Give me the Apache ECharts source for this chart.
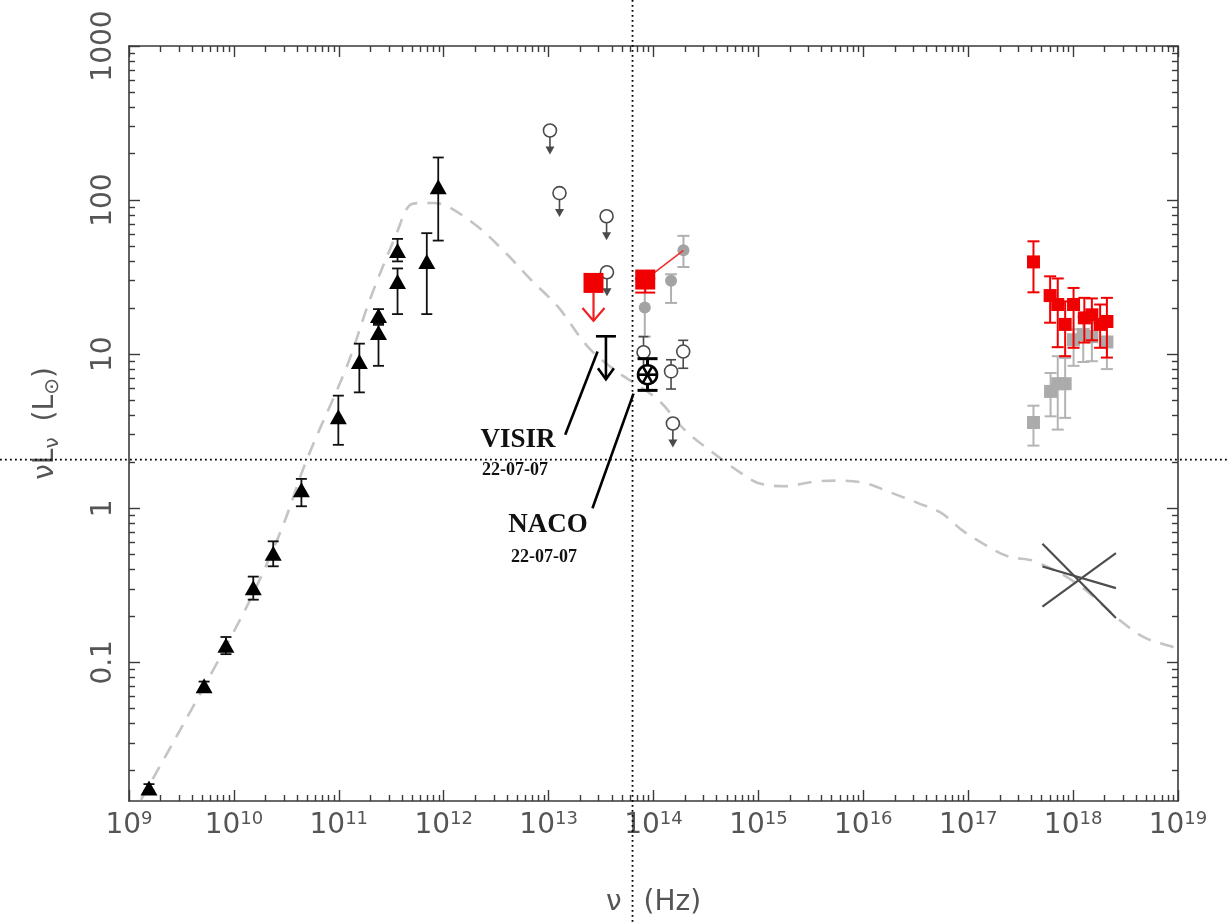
<!DOCTYPE html>
<html><head><meta charset="utf-8">
<script src="https://cdn.jsdelivr.net/npm/echarts@6/dist/echarts.min.js"></script>
<style>html,body{margin:0;padding:0;background:#fff}#c{width:1228px;height:922px}</style>
</head><body><div id="c"></div><script>
// ---------- axis ticks ----------
const xMajorTicks = [1e9,1e10,1e11,1e12,1e13,1e14,1e15,1e16,1e17,1e18,1e19];
const yMajorTicks = [0.1,1,10,100,1000];
const minorSteps = [2,3,4,5,6,7,8,9];
const xMin = 1e9, xMax = 1e19, yMin = 0.01259, yMax = 1000;

// ---------- data (x = nu [Hz], y = nuL_nu [Lsun]) ----------
// model SED (dashed grey curve)
const modelCurve = [[1.3e9,0.0128],[1.14e10,0.188],[2.75e10,0.69],[4.94e10,2.06],[1.19e11,8.3],[1.98e11,22.6],[3.57e11,61.1],[4.78e11,92.9],[6.21e11,95.7],[7.91e11,95.7],[1.07e12,91.6],[2.09e12,67.6],[3.76e12,46.6],[6.76e12,30.5],[1.22e13,20.4],[2.36e13,11.2],[4.23e13,7.93],[1.10e14,5.07],[1.97e14,3.24],[4.10e14,2.17],[6.85e14,1.69],[9.89e14,1.46],[1.77e15,1.39],[3.44e15,1.49],[5.74e15,1.51],[1.03e16,1.46],[1.85e16,1.26],[3.33e16,1.08],[5.57e16,0.93],[8.65e16,0.724],[1.45e17,0.579],[2.42e17,0.486],[4.34e17,0.452],[1.135e18,0.318],[2.92e18,0.183],[4.88e18,0.144],[9.42e18,0.124],[1e19,0.12]];
// radio / sub-mm detections: [nu, L, Llow, Lhigh]
const radioTriangles = [[1.55e9,0.0153,0.0146,0.0162],[5.2e9,0.0705,0.067,0.075],[8.4e9,0.129,0.113,0.146],[1.53e10,0.305,0.255,0.36],[2.37e10,0.51,0.42,0.61],[4.4e10,1.32,1.03,1.55],[9.9e10,3.93,2.58,5.38],[1.57e11,8.95,5.65,11.7],[2.39e11,13.8,8.4,15.5],[2.39e11,17.8,15.8,19.6],[3.63e11,29.6,18.2,36],[3.63e11,47,40,56],[6.9e11,40,18.2,61],[8.87e11,122,54.6,189]];
// IR upper limits (open circles with arrows): [nu, L]
const irUpperLimits = [[1.03e13,283],[1.27e13,111],[3.57e13,78.5],[3.6e13,34],[1.53e14,3.55]];
// NIR detections (open circles): [nu, L, Llow, Lhigh]
const nirCircles = [[8.03e13,10.3,8.0,13.0],[1.47e14,7.73,5.94,9.2],[1.92e14,10.4,8.1,12.3]];
// NIR flare points (grey dots): [nu, L, Llow, Lhigh]
const nirFlareGrey = [[1.93e14,47.2,36.8,58.6],[1.47e14,30,21.5,33],[8.26e13,20.1,13.0,27]];
// red IR points
const redIrUpperLimit = [[2.68e13,29]];
const redIrDetections = [[8.34e13,30.5,25.1,31]];
const redIrSlope = [[8.34e13,30.5],[1.93e14,47.2]];
// X-ray flares: [nu, L, Llow, Lhigh]
const xrayRed = [[4.19e17,39.7,25.2,54],[6.04e17,24,16,32],[7.14e17,21,11.1,31],[8.4e17,15.6,9.7,22],[1.01e18,21,11,26.9],[1.28e18,17.2,11.9,23.2],[1.51e18,18,12.3,23],[1.81e18,15.6,11,21],[2.1e18,16.3,9.5,23.2]];
const xrayGrey = [[4.19e17,3.6,2.55,4.63],[6.1e17,5.73,3.95,7.55],[7.14e17,6.43,3.24,9.7],[8.4e17,6.43,3.86,9.45],[1.01e18,12.4,8.4,14.5],[1.25e18,13.4,8.9,17.5],[1.51e18,13,9,16],[2.1e18,12,8.0,15]];
// quiescent X-ray bow-tie
const bowTie = [[[5.1e17,0.589],[2.56e18,0.194]],[[5.1e17,0.230],[2.56e18,0.512]],[[5.1e17,0.419],[2.56e18,0.303]]];
// 22-07-07 observations
const visirLimit = [[3.52e13,13.06]];
const nacoPoint = [[8.77e13,7.36,5.82,9.35]];
const visirLeader = [[1.44e13,3.0],[2.93e13,10.4]];
const nacoLeader = [[2.62e13,1.0],[6.45e13,5.54]];
const annotations = [
  {text:'VISIR', x:5.1e12, y:2.77, big:true},
  {text:'22-07-07', x:4.79e12, y:1.75, big:false},
  {text:'NACO', x:9.86e12, y:0.778, big:true},
  {text:'22-07-07', x:9.04e12, y:0.483, big:false}
];
// crosshair (dotted) position
const crossX = 6.31e13, crossY = 2.07;

// ---------- helpers ----------
const minorOf = (majors) => {
  const out = [];
  majors.forEach(m => minorSteps.forEach(k => out.push(m*k)));
  return out;
};
const xMinorTicks = minorOf([1e9,1e10,1e11,1e12,1e13,1e14,1e15,1e16,1e17,1e18]);
const yMinorTicks = minorOf([0.01,0.1,1,10,100]).filter(v => v > yMin && v < yMax);

const AX = '#3a3a3a', LBL = '#555';
const FONT = 'DejaVu Sans';

function xAxisDef(pos, major, showLabel){
  return {
    type:'log', logBase:10, min:xMin, max:xMax, position:pos, gridIndex:0,
    axisLine:{show:major, lineStyle:{color:AX, width:1.6}},
    axisTick:{show:true, inside:true, length: major?11:6, lineStyle:{color:AX, width:1.4},
      customValues: major ? xMajorTicks : xMinorTicks},
    axisLabel:{show:showLabel, customValues:xMajorTicks, margin:9,
      formatter:(v)=>'{b|10}{s|'+Math.round(Math.log10(v))+'}',
      rich:{b:{fontFamily:FONT,fontSize:28,color:LBL,lineHeight:32},
            s:{fontFamily:FONT,fontSize:18,color:LBL,lineHeight:18,verticalAlign:'top'}}},
    splitLine:{show:false},
    name: showLabel ? '{g|ν}{n|(Hz)}' : '',
    nameLocation:'middle', nameGap:88,
    nameTextStyle:{rich:{
      g:{fontFamily:FONT,fontSize:28,color:LBL,padding:[0,22,0,0]},
      n:{fontFamily:FONT,fontSize:28,color:LBL}}}
  };
}
function yAxisDef(pos, major, showLabel){
  return {
    type:'log', logBase:10, min:yMin, max:yMax, position:pos, gridIndex:0,
    axisLine:{show:major, lineStyle:{color:AX, width:1.6}},
    axisTick:{show:true, inside:true, length: major?11:6, lineStyle:{color:AX, width:1.4},
      customValues: major ? yMajorTicks : yMinorTicks},
    axisLabel:{show:showLabel, customValues:yMajorTicks, rotate:90, margin:11,
      fontFamily:FONT, fontSize:28, color:LBL,
      formatter:(v)=> v>=1 ? String(Math.round(v)) : String(v)},
    splitLine:{show:false},
    name: showLabel ? '{n|νL}{sg|ν}{n|(L}{sb|⊙}{n|)}' : '',
    nameLocation:'middle', nameGap:66, nameRotate:90,
    nameTextStyle:{rich:{
      n:{fontFamily:FONT,fontSize:28,color:LBL,lineHeight:34},
      sg:{fontFamily:FONT,fontSize:20,color:LBL,lineHeight:34,verticalAlign:'bottom',padding:[8,16,0,0]},
      sb:{fontFamily:FONT,fontSize:20,color:LBL,lineHeight:34,verticalAlign:'bottom',padding:[8,0,0,0]}}}
  };
}

function errorBars(data, color, capW, lw, z){
  return {
    type:'custom', z, silent:true, clip:false,
    data: data.map(d => [d[0], d[2], d[3]]),
    encode:{x:0, y:[1,2]},
    renderItem(params, api){
      const lo = api.coord([api.value(0), api.value(1)]);
      const hi = api.coord([api.value(0), api.value(2)]);
      const x = lo[0], h = capW/2;
      const st = {stroke:color, lineWidth:lw, fill:null};
      return {type:'group', children:[
        {type:'line', shape:{x1:x,y1:lo[1],x2:x,y2:hi[1]}, style:st},
        {type:'line', shape:{x1:x-h,y1:lo[1],x2:x+h,y2:lo[1]}, style:st},
        {type:'line', shape:{x1:x-h,y1:hi[1],x2:x+h,y2:hi[1]}, style:st}
      ]};
    }
  };
}
function marks(data, symbol, size, itemStyle, z){
  return {type:'scatter', z, silent:true, symbol, symbolSize:size,
    data: data.map(d => [d[0], d[1]]), itemStyle:Object.assign({opacity:1}, itemStyle)};
}

const series = [];
// model curve
series.push({type:'line', z:1, silent:true, data:modelCurve, smooth:0.35, showSymbol:false, symbol:'none',
  lineStyle:{color:'#c4c4c4', width:2.6, type:[14,10]}});
// bow-tie
bowTie.forEach(seg => series.push({type:'line', z:3, silent:true, data:seg, symbol:'none',
  lineStyle:{color:'#4d4d4d', width:2.2}}));
// radio triangles
series.push(errorBars(radioTriangles, '#111', 11, 1.8, 4));
series.push(marks(radioTriangles, 'triangle', [17,15], {color:'#000'}, 5));
// IR upper limits (open circle + arrow)
series.push({
  type:'custom', z:5, silent:true, clip:false, data:irUpperLimits, encode:{x:0,y:1},
  renderItem(params, api){
    const c = api.coord([api.value(0), api.value(1)]);
    const col = '#4a4a4a';
    return {type:'group', children:[
      {type:'circle', shape:{cx:c[0], cy:c[1], r:6.5}, style:{stroke:col, lineWidth:1.6, fill:'#fff'}},
      {type:'line', shape:{x1:c[0], y1:c[1]+6.5, x2:c[0], y2:c[1]+19}, style:{stroke:col, lineWidth:1.6}},
      {type:'polygon', shape:{points:[[c[0]-4.5,c[1]+16],[c[0]+4.5,c[1]+16],[c[0],c[1]+24]]}, style:{fill:col}}
    ]};
  }
});
// grey NIR flare dots
series.push(errorBars(nirFlareGrey, '#b0b0b0', 12, 2, 4));
series.push(marks(nirFlareGrey, 'circle', 12, {color:'#a3a3a3'}, 5));
// NIR open circles
series.push(errorBars(nirCircles, '#4a4a4a', 10, 1.6, 6));
series.push(marks(nirCircles, 'circle', 13, {color:'#fff', borderColor:'#4a4a4a', borderWidth:1.6}, 7));
// red IR slope line and points
series.push({type:'line', z:7, silent:true, data:redIrSlope, symbol:'none', lineStyle:{color:'#f03030', width:1.6}});
series.push(errorBars(redIrDetections, '#f00000', 20, 2, 7));
series.push(marks(redIrDetections.concat(redIrUpperLimit), 'rect', 20, {color:'#f00000'}, 8));
series.push({
  type:'custom', z:8, silent:true, clip:false, data:redIrUpperLimit, encode:{x:0,y:1},
  renderItem(params, api){
    const c = api.coord([api.value(0), api.value(1)]);
    const st = {stroke:'#f02020', lineWidth:2.2, fill:null};
    return {type:'group', children:[
      {type:'line', shape:{x1:c[0], y1:c[1]+10, x2:c[0], y2:c[1]+38}, style:st},
      {type:'polyline', shape:{points:[[c[0]-11,c[1]+25],[c[0],c[1]+38],[c[0]+11,c[1]+25]]}, style:st}
    ]};
  }
});
// X-ray flares
series.push(errorBars(xrayGrey, '#b4b4b4', 12, 2, 4));
series.push(marks(xrayGrey, 'rect', 13, {color:'#ababab'}, 5));
series.push(errorBars(xrayRed, '#f00000', 12, 2, 6));
series.push(marks(xrayRed, 'rect', 13, {color:'#f00000'}, 7));
// VISIR upper limit
series.push({
  type:'custom', z:9, silent:true, clip:false, data:visirLimit, encode:{x:0,y:1},
  renderItem(params, api){
    const c = api.coord([api.value(0), api.value(1)]);
    const st = {stroke:'#000', lineWidth:2.6, fill:null};
    return {type:'group', children:[
      {type:'line', shape:{x1:c[0]-10, y1:c[1], x2:c[0]+10, y2:c[1]}, style:st},
      {type:'line', shape:{x1:c[0], y1:c[1], x2:c[0], y2:c[1]+43}, style:st},
      {type:'polyline', shape:{points:[[c[0]-8,c[1]+32],[c[0],c[1]+43],[c[0]+8,c[1]+32]]}, style:st}
    ]};
  }
});
// NACO point
series.push(errorBars(nacoPoint, '#000', 20, 3, 9));
series.push({
  type:'custom', z:10, silent:true, clip:false, data:nacoPoint.map(d=>[d[0],d[1]]), encode:{x:0,y:1},
  renderItem(params, api){
    const c = api.coord([api.value(0), api.value(1)]);
    const r = 9.5, st = {stroke:'#000', lineWidth:2.6, fill:null};
    const ch = [{type:'circle', shape:{cx:c[0], cy:c[1], r}, style:{stroke:'#000', lineWidth:2.6, fill:'#fff'}}];
    [0,60,120].forEach(a => {
      const t = a*Math.PI/180, dx = Math.cos(t)*r, dy = Math.sin(t)*r;
      ch.push({type:'line', shape:{x1:c[0]-dx, y1:c[1]-dy, x2:c[0]+dx, y2:c[1]+dy}, style:st});
    });
    return {type:'group', children:ch};
  }
});
// leader lines
[visirLeader, nacoLeader].forEach(seg => series.push({type:'line', z:9, silent:true, data:seg, symbol:'none',
  clip:false, lineStyle:{color:'#000', width:2.6}}));
// annotation texts
series.push({
  type:'custom', z:11, silent:true, clip:false, data:annotations.map(a=>[a.x,a.y]), encode:{x:0,y:1},
  renderItem(params, api){
    const a = annotations[params.dataIndex];
    const c = api.coord([api.value(0), api.value(1)]);
    return {type:'text', x:c[0], y:c[1], style:{text:a.text, fill:'#111', align:'center', verticalAlign:'middle',
      font: a.big ? 'bold 27px "Liberation Serif"' : 'bold 18px "Liberation Serif"'}};
  }
});

const chart = echarts.init(document.getElementById('c'), null, {renderer:'canvas'});
chart.setOption({
  backgroundColor:'#fff', animation:false,
  grid:{left:129, right:50, top:46, bottom:121, containLabel:false},
  xAxis:[xAxisDef('bottom',true,true), xAxisDef('bottom',false,false), xAxisDef('top',true,false), xAxisDef('top',false,false)],
  yAxis:[yAxisDef('left',true,true), yAxisDef('left',false,false), yAxisDef('right',true,false), yAxisDef('right',false,false)],
  series: series.map(s => Object.assign({xAxisIndex:0, yAxisIndex:0}, s))
});
const px = chart.convertToPixel({xAxisIndex:0}, crossX);
const py = chart.convertToPixel({yAxisIndex:0}, crossY);
chart.setOption({graphic:[
  {type:'line', silent:true, z:20, shape:{x1:px, y1:0, x2:px, y2:922}, style:{stroke:'#000', lineWidth:1.8, lineDash:[1.8,3.2]}},
  {type:'line', silent:true, z:20, shape:{x1:0, y1:py, x2:1228, y2:py}, style:{stroke:'#000', lineWidth:1.8, lineDash:[1.8,3.2]}}
]});
</script></body></html>
